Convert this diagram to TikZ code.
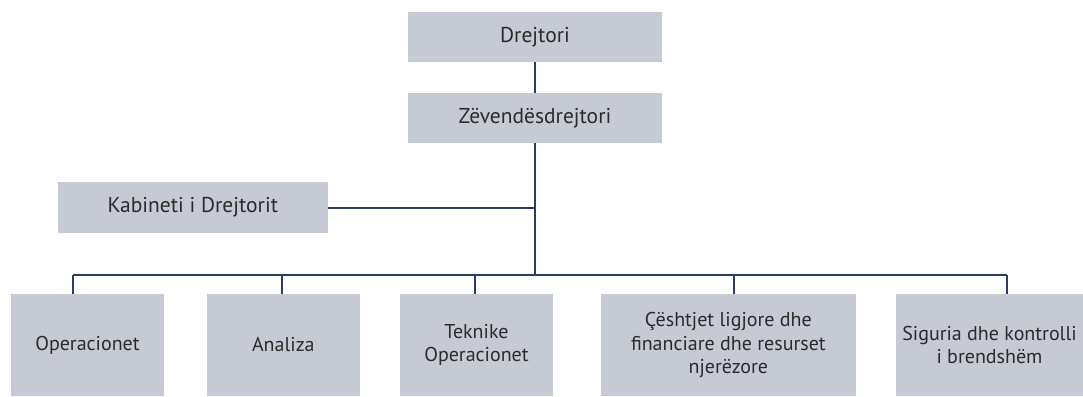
\documentclass[tikz,border=0pt]{standalone}
\usepackage{fontspec}
\setmainfont{PT Sans}
\definecolor{boxfill}{HTML}{C6CAD5}
\definecolor{linec}{HTML}{2F3D66}
\definecolor{textc}{HTML}{2B2B2B}
\begin{document}
\begin{tikzpicture}[x=1pt,y=-1pt,
  orgbox/.style={fill=boxfill, draw=none, text=textc, align=center, inner sep=0pt,
    font=\fontsize{21.5}{24}\selectfont},
  unitbox/.style={orgbox, minimum height=102pt, font=\fontsize{20}{23.5}\selectfont},
  conn/.style={draw=linec, line width=2pt}]
\useasboundingbox (0,0) rectangle (1083,396);
\fill[white] (0,0) rectangle (1083,396);
\node[orgbox, minimum width=254pt, minimum height=50pt] (d) at (535,37) {Drejtori};
\node[orgbox, minimum width=254pt, minimum height=50pt] (z) at (535,118) {Zëvendësdrejtori};
\node[orgbox, minimum width=270pt, minimum height=51pt] (k) at (192.8,207.5) {Kabineti i Drejtorit};
\node[unitbox, minimum width=153pt] (o1) at (87.5,345) {Operacionet};
\node[unitbox, minimum width=153.3pt] (o2) at (283.35,345) {Analiza};
\node[unitbox, minimum width=153pt] (o3) at (476.5,345) {Teknike\\Operacionet};
\node[unitbox, minimum width=255.3pt] (o4) at (728.35,345) {Çështjet ligjore dhe\\financiare dhe resurset\\njerëzore};
\node[unitbox, minimum width=187pt] (o5) at (989.5,345) {Siguria dhe kontrolli\\i brendshëm};
\coordinate (j1) at (73,275);
\coordinate (j2) at (282,275);
\coordinate (j3) at (475,275);
\coordinate (j4) at (734,275);
\coordinate (j5) at (1007,275);
\coordinate (jt) at (535,275);
\draw[conn] (d.south) -- (z.north);
\draw[conn] (z.south) -- (jt);
\draw[conn] (k.east) -- (k.east -| z.south);
\draw[conn] (j1) -- (j5);
\draw[conn] (j1) -- (j1 |- o1.north);
\draw[conn] (j2) -- (j2 |- o2.north);
\draw[conn] (j3) -- (j3 |- o3.north);
\draw[conn] (j4) -- (j4 |- o4.north);
\draw[conn] (j5) -- (j5 |- o5.north);
\end{tikzpicture}
\end{document}
